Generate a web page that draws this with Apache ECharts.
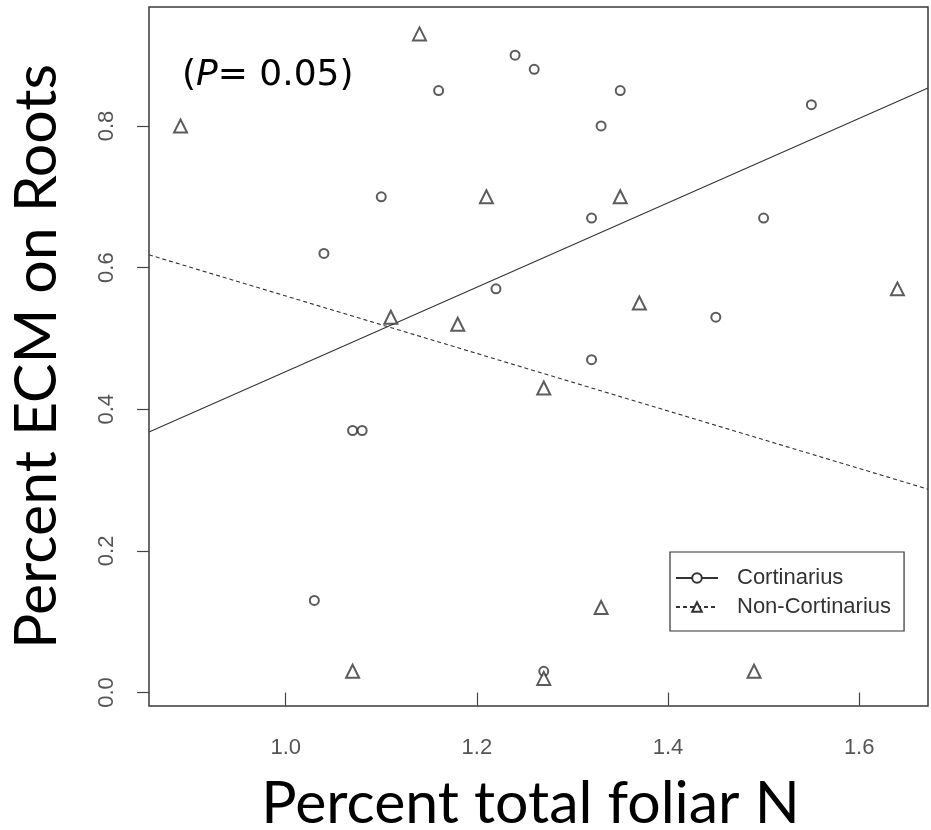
<!DOCTYPE html>
<html>
<head>
<meta charset="utf-8">
<script src="https://cdn.jsdelivr.net/npm/echarts@6/dist/echarts.min.js"></script>
<style>
  html, body { margin: 0; padding: 0; background: #fff; }
  #chart { width: 931px; height: 830px; }
</style>
</head>
<body>
<div id="chart"></div>
<script>
// Foliar N (%) and ECM colonisation (fraction) for each plot
const cortinariusN   = [1.24, 1.26, 1.16, 1.35, 1.55, 1.33, 1.10, 1.32, 1.50, 1.04, 1.22, 1.45, 1.32, 1.07, 1.08, 1.03, 1.27];
const cortinariusECM = [0.90, 0.88, 0.85, 0.85, 0.83, 0.80, 0.70, 0.67, 0.67, 0.62, 0.57, 0.53, 0.47, 0.37, 0.37, 0.13, 0.03];

const nonCortinariusN   = [1.14, 0.89, 1.21, 1.35, 1.64, 1.37, 1.11, 1.18, 1.27, 1.33, 1.07, 1.27, 1.49];
const nonCortinariusECM = [0.93, 0.80, 0.70, 0.70, 0.57, 0.55, 0.53, 0.52, 0.43, 0.12, 0.03, 0.02, 0.03];

// Linear fits (intercept, slope)
const cortinariusFit    = [-0.143, 0.596];
const nonCortinariusFit = [0.966, -0.406];

// Axis ranges and tick positions
const xRange = [0.857, 1.672];
const yRange = [-0.019, 0.968];
const xTicks = [1.0, 1.2, 1.4, 1.6];
const yTicks = [0.0, 0.2, 0.4, 0.6, 0.8];

const seriesNames = ['Cortinarius', 'Non-Cortinarius'];
const pLabel = '0.05';

function pairs(xs, ys) { return xs.map((x, i) => [x, ys[i]]); }
function fitLine(coef) { return xRange.map(x => [x, coef[0] + coef[1] * x]); }

const ink = '#333';
const chart = echarts.init(document.getElementById('chart'));

chart.setOption({
  animation: false,
  backgroundColor: '#fff',
  grid: {
    left: 149, top: 7, right: 3, bottom: 124,
    outerBoundsMode: 'none',
    show: true, borderColor: '#3a3a3a', borderWidth: 1.5, backgroundColor: 'transparent'
  },
  xAxis: {
    type: 'value',
    min: xRange[0], max: xRange[1],
    splitLine: { show: false },
    axisLine: { show: false },
    axisTick: { show: true, length: 13, lineStyle: { color: '#444', width: 1.2 }, customValues: xTicks },
    axisLabel: {
      customValues: xTicks, margin: 31,
      formatter: v => v.toFixed(1),
      fontFamily: 'Liberation Sans', fontSize: 22, color: '#555'
    },
    name: 'Percent total foliar N',
    nameLocation: 'middle', nameGap: 68,
    nameTextStyle: { fontFamily: 'Lato', fontSize: 59, color: '#000', padding: [0, 16, 0, 0] }
  },
  yAxis: {
    type: 'value',
    min: yRange[0], max: yRange[1],
    splitLine: { show: false },
    axisLine: { show: false },
    axisTick: { show: true, length: 12, lineStyle: { color: '#444', width: 1.2 }, customValues: yTicks },
    axisLabel: {
      customValues: yTicks, margin: 31, rotate: 90,
      formatter: v => v.toFixed(1),
      fontFamily: 'Liberation Sans', fontSize: 22, color: '#555'
    },
    name: 'Percent ECM on Roots',
    nameLocation: 'middle', nameGap: 83,
    nameTextStyle: { fontFamily: 'Lato', fontSize: 59, color: '#000' }
  },
  legend: {
    data: seriesNames,
    orient: 'vertical',
    left: 670, top: 552,
    padding: [15, 13, 13, 5],
    itemWidth: 42, itemHeight: 12, itemGap: 7,
    borderColor: ink, borderWidth: 1.2, backgroundColor: '#fff',
    textStyle: { fontFamily: 'Liberation Sans', fontSize: 22, color: '#333', padding: [0, 0, 0, 14] }
  },
  graphic: [{
    type: 'text',
    left: 182, top: 58,
    style: {
      text: '{t|(}{i|P}{t|= ' + pLabel + ')}',
      rich: {
        t: { fontFamily: 'DejaVu Sans', fontSize: 36, fill: '#000' },
        i: { fontFamily: 'DejaVu Sans', fontStyle: 'italic', fontSize: 36, fill: '#000' }
      }
    }
  }],
  series: [
    {
      name: seriesNames[0], type: 'line',
      data: fitLine(cortinariusFit),
      showSymbol: false, symbol: 'emptyCircle', symbolSize: 9,
      lineStyle: { color: ink, width: 1.1, type: 'solid' },
      itemStyle: { color: ink, borderColor: ink, borderWidth: 1.1 },
      z: 2
    },
    {
      name: seriesNames[1], type: 'line',
      data: fitLine(nonCortinariusFit),
      showSymbol: false, symbol: 'emptyTriangle', symbolSize: 12,
      lineStyle: { color: ink, width: 1.1, type: [4, 3] },
      itemStyle: { color: ink, borderColor: ink, borderWidth: 1.1 },
      z: 2
    },
    {
      name: seriesNames[0], type: 'scatter',
      data: pairs(cortinariusN, cortinariusECM),
      symbol: 'emptyCircle', symbolSize: 9,
      itemStyle: { color: ink, borderColor: '#222', borderWidth: 1.3 },
      z: 3
    },
    {
      name: seriesNames[1], type: 'scatter',
      data: pairs(nonCortinariusN, nonCortinariusECM),
      symbol: 'emptyTriangle', symbolSize: 13,
      itemStyle: { color: ink, borderColor: '#222', borderWidth: 1.3 },
      z: 3
    }
  ]
});
</script>
</body>
</html>
